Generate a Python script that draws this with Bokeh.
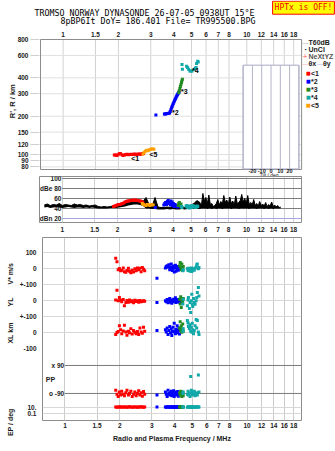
import math
import numpy as np
from bokeh.plotting import figure
from bokeh.layouts import column
from bokeh.models import (Range1d, LogScale, LinearScale, LinearAxis, LogAxis, FixedTicker,
                          NumeralTickFormatter, Label)
from bokeh.core.properties import value
from bokeh.embed import file_html
from bokeh.resources import INLINE

NAN = float("nan")

# ---------------- axes / ticks ----------------
FREQ_TICKS = [1, 1.5, 2, 3, 4, 5, 6, 7, 8, 10, 12, 14, 16, 18]
RANGE_TICKS = [80, 90, 100, 120, 150, 200, 300, 400, 600, 800]
TILT_GRID = [-30, -20, -10, 0, 10, 20, 30]
TILT_TICKS = [-20, -10, 0, 10, 20]
DB_LEVELS = [100, 80, 60, 40, 20]
DB_LABELS = ["100", "dBe 80", "60", "40", "dBn 20"]
LOWER_TICKS = [500, 400, 300, 200, 100, 0, -100]
LOWER_LABELS = ["100", "0", "+-100", "0", "+-100", "0", "-100"]
PP_LEVELS = [90, -90]
PP_LABELS = ["x 90", "o -90"]
EP_TICKS = [10, 0.1]
EP_LABELS = ["10.", "0.1"]

# ---------------- traces ----------------
TRACE_NAMES = ["<1", "*2", "*3", "*4", "<5"]
TRACE_COLORS = ["#ff0000", "#0000ff", "#228b22", "#10a8a8", "#ffa000"]
TAG_F = [2.35, 3.92, 4.38, 5.03, 2.95]
TAG_R = [93, 215, 310, 455, 100]

red_f = [1.90, 1.93, 1.96, 1.99, 2.02, 2.05, 2.09, 2.12, 2.16, 2.19, 2.23, 2.26,
         2.30, 2.34, 2.38, 2.42, 2.46, 2.50, 2.54, 2.58, 2.62, 2.66, 2.70, 2.74]
red_r = [99, 99, 98.5, 99.5, 101.5, 102, 99.5, 98.5, 99, 100, 100.5, 99.5,
         100, 100.5, 100, 100.5, 101, 100, 100.5, 101, 100.5, 101, 101.5, 102]
red_db = [44, 45, 46, 47, 48, 48, 49, 50, 51, 53, 54, 55,
          55, 56, 56, 57, 56, 57, 56, 56, 55, 55, 54, 52]
red_vs = [66, 45, -5, 2, -12, -8, 5, -18, -22, -10, 3, -15,
          -25, -8, -20, 0, -12, 5, -5, 3, -18, 8, -2, -12]
red_yl = [5, 67, 0, 21, 3, -5, 8, -31, -10, 2, -8, 5,
          -6, 0, -12, 3, -4, 0, -8, 2, -5, -3, 0, -2]
red_xl = [-10, 2, 8, 45, 20, -5, 12, 48, 5, -15, 10, 0,
          25, -8, 15, 3, -5, 8, -10, 30, 5, -3, 35, 10]
red_pp = [-70, -95, -110, -80, -100, -75, -95, -105, -85, -70, -100, -90,
          -75, -110, -95, -80, -105, -90, -72, -100, -85, -108, -78, -95]
red_ep = [10, 9, 11, 10, 12, 9, 10, 11, 10, 9, 10, 12,
          10, 9, 11, 10, 10, 9, 11, 10, 12, 10, 9, 10]

blue_f = [3.20, 3.56, 3.60, 3.64, 3.68, 3.72, 3.76, 3.80, 3.83, 3.86, 3.89, 3.92,
          3.95, 3.98, 4.01, 4.04, 4.07, 4.10, 4.13, 4.16, 4.19, 4.22, 4.25, 4.28]
blue_r = [204, 208, 208, 209, 210, 210, 211, 212, 218, 225, 232, 238,
          245, 252, 258, 265, 271, 277, 283, 289, 295, 300, 305, 310]
blue_db = [42, 47, 50, 52, 48, 54, 56, 50, 52, 47, 55, 49,
           53, 46, 50, 44, 48, 45, 47, 44, 46, 43, 45, 44]
blue_vs = [-58, 5, 15, 20, 10, 25, -5, 8, 30, 12, -10, 3,
           18, -20, 6, 22, -15, 10, 0, 15, -8, 5, 12, -3]
blue_yl = [-10, 0, -5, 8, -12, 3, 15, -8, 0, -15, 5, -3,
           10, -6, 0, 20, -10, 2, -5, 8, -2, 0, -8, 5]
blue_xl = [14, 20, 5, 30, -10, 15, 40, 0, 25, -17, 10, 35,
           5, 60, 12, -5, 22, 8, 45, 0, 15, 30, -8, 18]
blue_pp = [-100, -80, -95, -110, -70, -90, -100, -85, -75, -105, -95, -88,
           -72, -110, -92, -80, -100, -85, -95, -78, -108, -90, -82, -98]
blue_ep = [10, 11, 9, 10, 12, 10, 9, 11, 10, 10, 12, 9,
           10, 11, 10, 9, 10, 12, 10, 11, 9, 10, 10, 11]

green_f = [4.26, 4.29, 4.32, 4.35, 4.38, 4.41, 4.43, 4.46]
green_r = [305, 318, 330, 342, 355, 367, 378, 390]
green_db = [46, 50, 52, 48, 45, 49, 44, 43]
green_vs = [20, 40, 10, -5, 30, 0, -10, 15]
green_yl = [10, -20, 25, -42, 5, -10, 0, 15]
green_xl = [30, 70, 15, 45, 4, 25, 55, 10]
green_pp = [-85, -100, -75, -95, -110, -80, -90, -105]
green_ep = [10, 11, 9, 10, 12, 10, 9, 11]

teal_f = [4.44, 4.46, 4.70, 4.74, 4.76, 4.82, 4.86, 4.90, 4.94, 4.97,
          5.00, 5.03, 5.08, 5.13, 5.18, 5.25, 5.29, 5.33, 5.40, 5.44]
teal_r = [509, 467, 493, NAN, 482, 467, NAN, 453, NAN, 453,
          NAN, 453, NAN, NAN, 467, 474, 482, 518, 541, 533]
teal_db = [44, 42, 45, 43, 46, 42, 44, 41, 45, 43,
           44, 42, 46, 43, 45, 44, 42, 43, 45, 44]
teal_vs = [-12, -5, 0, -10, 3, -7, -15, 0, 5, -17,
           -5, 2, 0, -8, 4, 10, 25, 31, 0, 8]
teal_yl = [-20, 10, -31, 5, 21, -48, -10, -73, 0, 42,
           -21, -35, 15, -10, -21, 0, 21, 52, 83, 30]
teal_xl = [10, 25, 77, 62, 40, 25, 50, 10, 35, 4,
           60, 20, -6, 15, 45, 83, 30, 77, 5, -10]
teal_pp = [-90, -80, -95, -75, -100, -85, -110, 19, -70, -90,
           -100, -80, -95, -75, -105, -90, -85, -100, 28, -80]
teal_ep = [10, 11, 9, 10, 12, 10, 9, 11, 10, 10,
           12, 9, 10, 11, 10, 9, 10, 12, 10, 11]

orange_f = [2.72, 2.76, 2.80, 2.85, 2.90, 2.95, 3.00, 3.06, 3.12]
orange_r = [101, 104, 106, 108, 107, 109, 110, 111, 110]
orange_db = [50, 48, 47, 46, 48, 47, 46, 48, 47]

# background noise level per sounding frequency
noise_f = [0.800, 0.830, 0.862, 0.895, 0.929, 0.965, 1.001, 1.040, 1.079, 1.120,
           1.163, 1.207, 1.253, 1.301, 1.351, 1.402, 1.455, 1.511, 1.568, 1.628,
           1.690, 1.754, 1.821, 1.890, 1.962, 2.037, 2.115, 2.195, 2.279, 2.365,
           2.455, 2.549, 2.646, 2.746, 2.851, 2.959, 3.072, 3.189, 3.310, 3.436,
           3.567, 3.703, 3.844, 3.990, 4.142, 4.300, 4.463, 4.633, 4.810, 4.993,
           5.183, 5.380,
           5.585, 5.690, 5.798, 5.907, 6.018, 6.132, 6.248, 6.365, 6.485, 6.607,
           6.732, 6.859, 6.989, 7.121, 7.255, 7.392, 7.531, 7.673, 7.818, 7.965,
           8.115, 8.268, 8.424, 8.583, 8.745, 8.910, 9.078, 9.249, 9.423, 9.601,
           9.782, 9.966, 10.154, 10.346, 10.541, 10.740, 10.942, 11.148, 11.358, 11.572,
           11.791, 12.013, 12.239, 12.470, 12.705, 12.945, 13.189, 13.438, 13.691, 13.949,
           14.212, 14.480, 14.753, 15.032, 15.315]
noise_hi = [47, 49, 46, 48, 47, 50, 46, 48, 47, 46, 49, 47, 48, 46, 47, 45, 46, 47,
            44, 43, 44, 43, 44, 45,
            46, 48, 50, 52, 54, 55, 56, 57, 56, 54,
            62, 48, 44, 62, 43, 42,
            42, 43, 42, 44, 43, 42, 43,
            42, 44, 47, 50, 56,
            52, 45, 70, 55, 62, 50, 67, 48, 50, 44,
            46, 50, 58, 47, 54, 49, 66, 52, 57, 48,
            63, 50, 55, 47, 65, 50, 52, 56, 68, 53,
            60, 50, 66, 48, 52, 47, 58, 46, 50, 45,
            54, 46, 49, 45, 52, 44, 48, 45, 53, 44,
            47, 43, 46, 42, 43]
noise_lo = [42, 43, 41, 42, 43, 42, 41, 42, 43, 42, 41, 42, 42, 41, 42, 41, 42, 41,
            40, 40, 40, 40, 41, 41,
            41, 42, 43, 44, 46, 47, 48, 48, 47, 45,
            40, 40, 39, 39, 38, 38,
            38, 39, 38, 39, 38, 38, 39,
            38, 39, 39, 39, 40,
            39, 40, 40, 40, 40, 39, 40, 40, 39, 40,
            40, 39, 40, 40, 40, 39, 40, 40, 40, 40,
            40, 39, 40, 40, 40, 40, 39, 40, 40, 40,
            40, 40, 40, 39, 40, 40, 40, 40, 39, 40,
            40, 40, 40, 39, 40, 40, 39, 40, 40, 39,
            40, 40, 40, 40, 40]

# ---------------- layout constants ----------------
W = 335
FONT = "Liberation Sans"
MONO = "DejaVu Sans Mono"
TICK_SIZE = "6.5px"
INK = "#1a1a1a"
BORDER = "#8c8c8c"
GRID = "#d2d2d2"

# frequency scale: pixels per decade and pixel of 1 MHz
F_DEC, F1_X = 184.3, 61.7
PANEL_L, PANEL_R = 39, 301


def f_at(px):
    return 10 ** ((px - F1_X) / F_DEC)


F_LO, F_HI = f_at(PANEL_L), f_at(PANEL_R)

# range scale of the top panel
R_DEC, R800_Y = 127.4, 39.0


def r_at(py):
    return 800 / 10 ** ((py - R800_Y) / R_DEC)


# lower panel: one stacked coordinate, each quantity gets its own range
STACK = (-548, 596)
VS_OFFSET, YL_OFFSET = 400, 200
PP_X90, PP_O90 = -204, -379
EP_10, EP_01 = -464, -504


def arr(v):
    return np.array(v, dtype=float)


def style_ticks(ax, size=TICK_SIZE):
    ax.major_label_text_font = FONT
    ax.major_label_text_font_size = size
    ax.major_label_text_font_style = "bold"
    ax.major_label_text_color = INK
    ax.axis_line_color = None
    ax.major_tick_line_color = None
    ax.minor_tick_line_color = None
    ax.major_tick_out = 0
    ax.major_tick_in = 0
    ax.minor_tick_out = 0
    ax.minor_tick_in = 0


def freq_axis(p, standoff):
    xa = p.xaxis[0]
    xa.ticker = FixedTicker(ticks=FREQ_TICKS)
    xa.formatter = NumeralTickFormatter(format="0.[0]")
    style_ticks(xa)
    xa.major_label_standoff = standoff


def note(p, x, y, text, size="7px", color=INK, font=FONT, style="bold",
         align="left", **kw):
    p.add_layout(Label(x=x, y=y, x_units="canvas", y_units="canvas", text=text,
                       text_font=font, text_font_size=size, text_color=color,
                       text_font_style=style, text_align=align,
                       text_baseline="middle", **kw))


def dots(p, f, v, color, **kw):
    p.scatter(arr(f), arr(v), marker="square", size=3, fill_color=color,
              line_color=None, **kw)


def side_titles(p, ticks, labels, size, standoff, log=False):
    cls = LogAxis if log else LinearAxis
    ax = cls(ticker=FixedTicker(ticks=ticks),
             major_label_overrides={t: s for t, s in zip(ticks, labels)},
             major_label_orientation=math.pi / 2)
    style_ticks(ax, size)
    ax.major_label_standoff = standoff
    p.add_layout(ax, "left")


def common(p):
    p.background_fill_color = "white"
    p.border_fill_color = "white"


# ================= header strip =================
head = figure(width=W, height=28, x_range=Range1d(0, 1), y_range=Range1d(0, 1),
              x_axis_location=None, y_axis_location=None, output_backend="svg",
              toolbar_location=None, min_border=0, frame_align=False)
common(head)
head.outline_line_color = None
head.grid.grid_line_color = None
note(head, 149, 12, "TROMSO NORWAY   DYNASONDE 26-07-05 0938UT 15\u00b0E", size="8.3px",
     font=MONO, style="normal", align="center", color="#000000")
note(head, 157.5, 20.5, "8pBP6It DoY= 186.401 File= TR995500.BPG", size="8.3px",
     font=MONO, style="normal", align="center", color="#000000")
note(head, 303, 7.2, "HPTx is OFF!", size="8px", font=MONO, style="normal", align="center",
     color="#ee0000", background_fill_color="#ffff00", border_line_color="#ff0000",
     padding=2)

# ================= virtual range panel =================
TOP = 28          # canvas offset of this strip
p1 = figure(width=W, height=148, x_axis_type="log", y_axis_type="log",
            x_range=Range1d(f_at(38), f_at(W)), y_range=Range1d(r_at(176), r_at(38)),
            x_axis_location="above", output_backend="svg", toolbar_location=None,
            min_border_left=38, min_border_right=0, min_border_top=10, min_border_bottom=0,
            frame_align=False)
common(p1)
p1.outline_line_color = None
p1.grid.grid_line_color = None
freq_axis(p1, 2)
ya = p1.yaxis[0]
ya.ticker = FixedTicker(ticks=RANGE_TICKS)
ya.formatter = NumeralTickFormatter(format="0")
style_ticks(ya)
ya.major_tick_out = 9
ya.major_tick_line_color = "#cfcfcf"
ya.major_label_standoff = 2
side_titles(p1, [356], ["R', R / km"], "7.5px", 2, log=True)

r_bot = 76.3
p1.segment(x0=FREQ_TICKS, x1=FREQ_TICKS, y0=[r_bot] * len(FREQ_TICKS),
           y1=[800] * len(FREQ_TICKS), line_color=GRID, line_width=1)
p1.segment(x0=[F_LO] * len(RANGE_TICKS), x1=[F_HI] * len(RANGE_TICKS),
           y0=RANGE_TICKS, y1=RANGE_TICKS, line_color="#e0e0e0", line_width=1)
p1.quad(left=[F_LO], right=[F_HI], bottom=[r_bot], top=[800], fill_color=None,
        line_color=BORDER, line_width=1)

# tilt inset sharing the frame
TILT_PX = 9.333 / 10
tilt_left_px = 242.3
p1.extra_x_ranges = {"tilt": Range1d(-30 - (tilt_left_px - 38) / TILT_PX,
                                     -30 + (W - tilt_left_px) / TILT_PX)}
p1.extra_x_scales = {"tilt": LinearScale()}
p1.quad(left=[TILT_GRID[0]], right=[TILT_GRID[-1]], top=[503], bottom=[r_bot + 0.8],
        x_range_name="tilt", fill_color="white", line_color="#a9a9c4", line_width=1)
p1.segment(x0=TILT_GRID, x1=TILT_GRID, y0=[r_bot + 0.8] * len(TILT_GRID),
           y1=[503] * len(TILT_GRID), x_range_name="tilt", line_color="#b4b4cc", line_width=1)
p1.text(x=TILT_TICKS, y=[r_at(170.0)] * len(TILT_TICKS), text=[str(t) for t in TILT_TICKS],
        x_range_name="tilt", text_font=value(FONT), text_font_size="5.5px",
        text_font_style="bold", text_color=INK, text_align="center", text_baseline="middle")
p1.text(x=[-2], y=[r_at(174.0)], text=["Tilt / deg"], x_range_name="tilt",
        text_font=value(FONT), text_font_size="5px", text_color=INK,
        text_align="center", text_baseline="middle")

for f, r, c in [(red_f, red_r, TRACE_COLORS[0]), (orange_f, orange_r, TRACE_COLORS[4]),
                (blue_f, blue_r, TRACE_COLORS[1]), (green_f, green_r, TRACE_COLORS[2]),
                (teal_f, teal_r, TRACE_COLORS[3])]:
    dots(p1, f, r, c)
p1.text(x=TAG_F, y=TAG_R, text=TRACE_NAMES, text_font=value(FONT), text_font_size="7px",
        text_font_style="bold", text_color="#000000", text_align="left", text_baseline="middle")

# legend
note(p1, 302, 42.3 - TOP, "\u2014", size="6px", color="#9a9a9a", style="normal")
note(p1, 308, 42.3 - TOP, "T60dB", size="7px")
note(p1, 304, 49 - TOP, "\u00b7", size="8px", color="#000000")
note(p1, 308, 49 - TOP, "UnCl", size="7px")
note(p1, 302.5, 55.7 - TOP, "+", size="7px", color="#ff8a8a")
note(p1, 308, 55.7 - TOP, "NeXtYZ", size="7px", color="#555555")
note(p1, 302, 63.3 - TOP, "\u2014", size="6px", color="#ff9a9a", style="normal")
note(p1, 308, 63.3 - TOP, "\u03b8x", size="7px")
note(p1, 316.5, 63.3 - TOP, "\u2014", size="6px", color="#9a9aff", style="normal")
note(p1, 322.5, 63.3 - TOP, "\u03b8y", size="7px")
for i, (name, col) in enumerate(zip(TRACE_NAMES, TRACE_COLORS)):
    yy = 72.5 + i * 8.1 - TOP
    note(p1, 305.5, yy, "\u25a0", size="5px", color=col, font="DejaVu Sans", style="normal")
    note(p1, 310.5, yy, name, size="7px")

# ================= amplitude panel =================
p2 = figure(width=W, height=61, x_axis_type="log", x_range=Range1d(F_LO, F_HI),
            y_range=Range1d(12, 104), output_backend="svg", toolbar_location=None,
            min_border_left=PANEL_L, min_border_right=W - PANEL_R, min_border_top=0,
            min_border_bottom=15, frame_align=False)
common(p2)
p2.outline_line_color = BORDER
freq_axis(p2, 4)
p2.xgrid.ticker = FixedTicker(ticks=FREQ_TICKS)
p2.xgrid.grid_line_color = GRID
p2.yaxis.visible = False
p2.ygrid.visible = False
p2.segment(x0=[1] * 4, x1=[F_HI] * 4, y0=DB_LEVELS[:4], y1=DB_LEVELS[:4],
           line_color="#7d7d7d", line_width=1)
p2.segment(x0=[1], x1=[F_HI], y0=DB_LEVELS[4:], y1=DB_LEVELS[4:],
           line_color="#a4a6e4", line_width=1)
p2.text(x=[0.99] * 5, y=DB_LEVELS, text=DB_LABELS, text_font=value(FONT),
        text_font_size=TICK_SIZE, text_font_style="bold", text_color=INK,
        text_align="right", text_baseline="middle")
p2.varea(x=noise_f, y1=noise_lo, y2=noise_hi, fill_color="#000000")
p2.line(noise_f, noise_hi, line_color="#000000", line_width=1)
for f, d, c in [(red_f, red_db, TRACE_COLORS[0]), (orange_f, orange_db, TRACE_COLORS[4]),
                (blue_f, blue_db, TRACE_COLORS[1]), (green_f, green_db, TRACE_COLORS[2]),
                (teal_f, teal_db, TRACE_COLORS[3])]:
    dots(p2, f, d, c)

# ================= velocity / location / polarization panel =================
p3 = figure(width=W, height=214, x_axis_type="log", x_range=Range1d(F_LO, F_HI),
            y_range=Range1d(*STACK), output_backend="svg", toolbar_location=None,
            min_border_left=PANEL_L, min_border_right=W - PANEL_R, min_border_top=0,
            min_border_bottom=31, frame_align=False)
common(p3)
p3.outline_line_color = BORDER
freq_axis(p3, 2)
p3.xgrid.ticker = FixedTicker(ticks=FREQ_TICKS)
p3.xgrid.grid_line_color = "#cccccc"
xa3 = p3.xaxis[0]
xa3.axis_label = "Radio and Plasma Frequency / MHz"
xa3.axis_label_standoff = 4
xa3.axis_label_text_font = FONT
xa3.axis_label_text_font_size = "7px"
xa3.axis_label_text_font_style = "bold"
xa3.axis_label_text_color = INK

lo, hi = STACK
pp_per_deg = (PP_X90 - PP_O90) / 180.0
pp_mid = (PP_X90 + PP_O90) / 2.0
ep_per_dec = (EP_10 - EP_01) / 2.0
ep_one = EP_10 - ep_per_dec
p3.extra_y_ranges = {
    "vs": Range1d(lo - VS_OFFSET, hi - VS_OFFSET),
    "yl": Range1d(lo - YL_OFFSET, hi - YL_OFFSET),
    "pp": Range1d((lo - pp_mid) / pp_per_deg, (hi - pp_mid) / pp_per_deg),
    "ep": Range1d(10 ** ((lo - ep_one) / ep_per_dec), 10 ** ((hi - ep_one) / ep_per_dec)),
}
p3.extra_y_scales = {"ep": LogScale()}

ep_ticks = [int(round(ep_one + ep_per_dec * math.log10(v))) for v in EP_TICKS]
ya3 = p3.yaxis[0]
ya3.ticker = FixedTicker(ticks=LOWER_TICKS + ep_ticks)
overrides = {t: s for t, s in zip(LOWER_TICKS, LOWER_LABELS)}
overrides.update({t: s for t, s in zip(ep_ticks, EP_LABELS)})
ya3.major_label_overrides = overrides
style_ticks(ya3)
ya3.major_label_standoff = 6
p3.ygrid.ticker = FixedTicker(ticks=LOWER_TICKS[:-1] + ep_ticks)
p3.ygrid.grid_line_color = "#d8d8d8"
side_titles(p3, [436, 221, 64, -11, -473], ["V* m/s", "YL", "km", "XL", "EP / deg"],
            "7px", 6)

p3.segment(x0=[1, 1], x1=[F_HI] * 2, y0=PP_LEVELS, y1=PP_LEVELS,
           y_range_name="pp", line_color="#7a7a7a", line_width=1)
p3.text(x=[0.99, 0.99], y=PP_LEVELS, text=PP_LABELS, y_range_name="pp",
        text_font=value(FONT), text_font_size=TICK_SIZE, text_font_style="bold",
        text_color=INK, text_align="right", text_baseline="middle")
p3.text(x=[0.785], y=[0], text=["PP"], y_range_name="pp", text_font=value(FONT),
        text_font_size="7px", text_font_style="bold", text_color=INK,
        text_align="left", text_baseline="middle")

for f, vs, yl, xl, pp, ep, c in [
        (red_f, red_vs, red_yl, red_xl, red_pp, red_ep, TRACE_COLORS[0]),
        (blue_f, blue_vs, blue_yl, blue_xl, blue_pp, blue_ep, TRACE_COLORS[1]),
        (green_f, green_vs, green_yl, green_xl, green_pp, green_ep, TRACE_COLORS[2]),
        (teal_f, teal_vs, teal_yl, teal_xl, teal_pp, teal_ep, TRACE_COLORS[3])]:
    dots(p3, f, vs, c, y_range_name="vs")
    dots(p3, f, yl, c, y_range_name="yl")
    dots(p3, f, xl, c)
    dots(p3, f, pp, c, y_range_name="pp")
    dots(p3, f, ep, c, y_range_name="ep")

layout = column(head, p1, p2, p3, spacing=0)
open("out.html", "w").write(file_html(layout, INLINE))
